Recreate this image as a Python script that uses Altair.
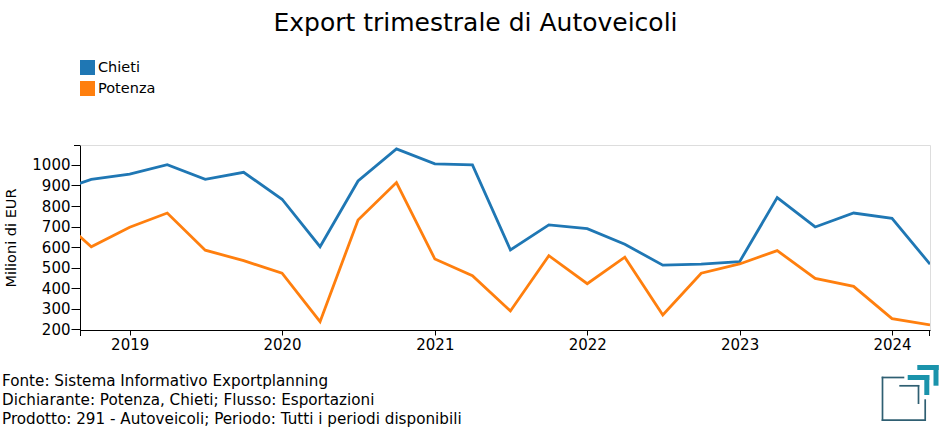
import altair as alt
import pandas as pd

# ---------------- data ----------------
quarters = [
    "2018-07-01", "2018-10-01",
    "2019-01-01", "2019-04-01", "2019-07-01", "2019-10-01",
    "2020-01-01", "2020-04-01", "2020-07-01", "2020-10-01",
    "2021-01-01", "2021-04-01", "2021-07-01", "2021-10-01",
    "2022-01-01", "2022-04-01", "2022-07-01", "2022-10-01",
    "2023-01-01", "2023-04-01", "2023-07-01", "2023-10-01",
    "2024-01-01", "2024-04-01",
]
chieti = [865, 930, 955, 1001, 930, 964, 833, 602, 922, 1078, 1005, 1000,
          586, 708, 690, 614, 512, 517, 529, 841, 698, 766, 740, 517]
potenza = [769, 602, 697, 766, 585, 534, 473, 237, 732, 914, 542, 461,
           289, 558, 422, 551, 270, 473, 518, 583, 448, 409, 252, 221]
series_names = ["Chieti", "Potenza"]
series_colors = ["#1f77b4", "#ff7f0e"]
y_ticks = [200, 300, 400, 500, 600, 700, 800, 900, 1000]

title_text = "Export trimestrale di Autoveicoli"
y_title = "Milioni di EUR"
footer_lines = [
    "Fonte: Sistema Informativo Exportplanning",
    "Dichiarante: Potenza, Chieti; Flusso: Esportazioni",
    "Prodotto: 291 - Autoveicoli; Periodo: Tutti i periodi disponibili",
]

df = pd.DataFrame({
    "date": quarters + quarters,
    "value": chieti + potenza,
    "series": [series_names[0]] * len(quarters) + [series_names[1]] * len(quarters),
})

W, H = 850, 185
FONT = "DejaVu Sans"
one = alt.Data(values=[{"k": 0}])

x_enc = alt.X(
    "date:T",
    scale=alt.Scale(
        type="utc",
        domain=[alt.DateTime(year=2018, month=9, date=4, utc=True),
                alt.DateTime(year=2024, month=4, date=1, utc=True)],
    ),
    axis=alt.Axis(
        title=None, format="%Y", tickCount={"interval": "year", "step": 1},
        grid=False, labelFontSize=15, tickSize=5, labelPadding=2,
        domainColor="black", tickColor="black", labelColor="black",
        labelFont=FONT,
    ),
)
y_enc = alt.Y(
    "value:Q",
    scale=alt.Scale(domain=[196.5, 1097], nice=False, zero=False),
    axis=alt.Axis(
        values=y_ticks, format="d", title=y_title, grid=False, labelFontSize=15,
        tickSize=9, labelPadding=1, domainColor="black", tickColor="black",
        labelColor="black", titleColor="black", titleFontSize=14.5,
        titleFontWeight="normal", titleFont=FONT, labelFont=FONT,
        titleX=-65, titleY=H / 2, titleAlign="center",
        titleBaseline="alphabetic", titleAngle=270,
    ),
)
color_scale = alt.Scale(domain=series_names, range=series_colors)

lines = alt.Chart(df).mark_line(strokeWidth=2.8, clip=True).encode(
    x=x_enc, y=y_enc,
    color=alt.Color("series:N", scale=color_scale, legend=None),
)

# invisible filled squares: only give the legend its filled swatches
legend_layer = alt.Chart(df).mark_square(size=0, filled=True, clip=True).encode(
    x=x_enc, y=y_enc,
    color=alt.Color(
        "series:N", scale=color_scale,
        legend=alt.Legend(
            title=None, orient="none", legendX=0, legendY=-85,
            symbolType="square", symbolSize=225, symbolStrokeWidth=0,
            symbolOpacity=1,
            labelFontSize=14.5, labelFont=FONT, labelColor="black",
            rowPadding=5, padding=0, labelOffset=3,
        ),
    ),
)

title = alt.Chart(one).mark_text(
    text=title_text, fontSize=25, font=FONT, align="center",
    baseline="alphabetic", color="black",
).encode(x=alt.value(395.5), y=alt.value(-114.5))

footer = alt.Chart(one).mark_text(
    text=footer_lines, fontSize=15.2, font=FONT, align="left",
    baseline="alphabetic", lineHeight=19, color="black",
).encode(x=alt.value(-78), y=alt.value(241))

# outer ticks at the axis ends
outer = [
    alt.Chart(one).mark_rule(color="black", strokeWidth=1).encode(
        x=alt.value(-6), x2=alt.value(0), y=alt.value(0.5)),
    alt.Chart(one).mark_rule(color="black", strokeWidth=1).encode(
        x=alt.value(0.5), y=alt.value(H), y2=alt.value(H + 6)),
    alt.Chart(one).mark_rule(color="black", strokeWidth=1).encode(
        x=alt.value(W - 0.5), y=alt.value(H), y2=alt.value(H + 6)),
]

# logo (decoration)
DARK, TEAL = "#2f5f72", "#1a93ab"
logo_segments = [
    (801.7, 824.3, 232.5, 232.5, DARK, 1.7),
    (802.5, 802.5, 231.7, 276.0, DARK, 1.7),
    (801.7, 846.0, 275.2, 275.2, DARK, 1.7),
    (845.2, 845.2, 254.3, 276.0, DARK, 1.7),
    (819.3, 839.3, 240.8, 240.8, DARK, 1.7),
    (838.5, 838.5, 240.0, 259.0, DARK, 1.7),
    (827.7, 849.3, 232.5, 232.5, TEAL, 5),
    (846.8, 846.8, 230.0, 250.0, TEAL, 5),
    (837.3, 858.7, 222.5, 222.5, TEAL, 5),
    (856.0, 856.0, 220.0, 240.7, TEAL, 5),
]
logo = [
    alt.Chart(one).mark_rule(color=c, strokeWidth=sw, strokeCap="butt").encode(
        x=alt.value(x1), x2=alt.value(x2), y=alt.value(y1), y2=alt.value(y2))
    for (x1, x2, y1, y2, c, sw) in logo_segments
]

chart = alt.layer(lines, legend_layer, title, footer, *outer, *logo).properties(
    width=W, height=H,
    autosize=alt.AutoSizeParams(type="none"),
    padding={"left": 80, "top": 145, "right": 20, "bottom": 105},
).resolve_legend(color="independent").configure_view(stroke=None).configure(font=FONT)

chart.save("out.html", embed_options={"renderer": "svg", "actions": False})
